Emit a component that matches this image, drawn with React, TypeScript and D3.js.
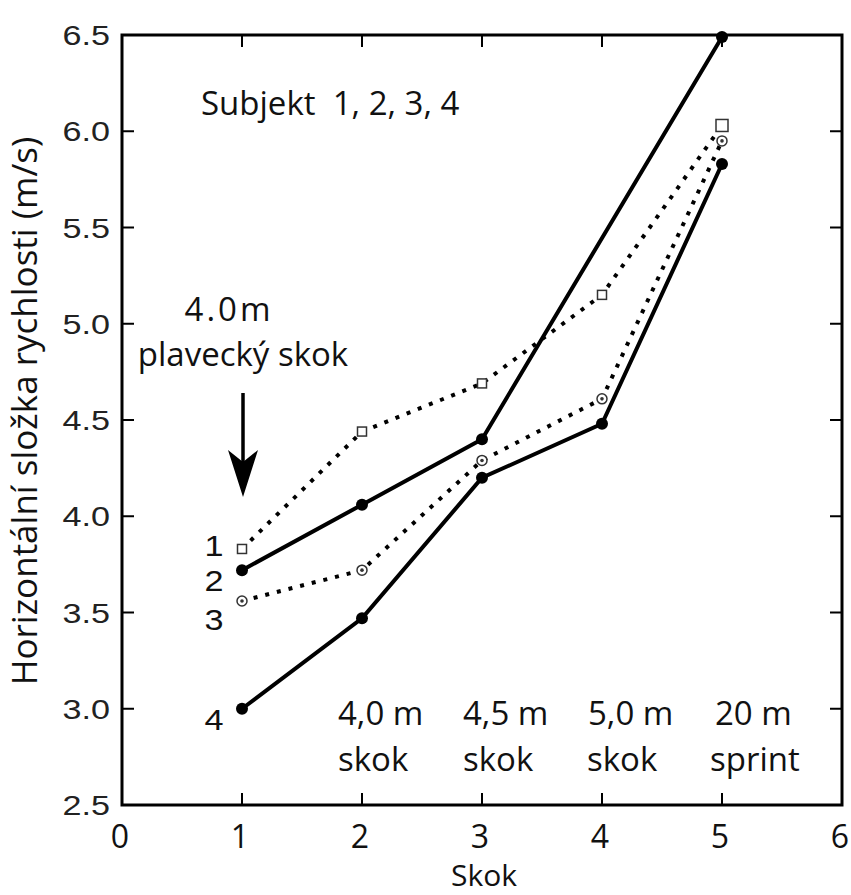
import React from "react";
import * as d3 from "d3";

const jumps = [1, 2, 3, 4, 5];
const subject1: (number | null)[] = [3.83, 4.44, 4.69, 5.15, 6.03];
const subject2: (number | null)[] = [3.72, 4.06, 4.40, null, 6.49];
const subject3: (number | null)[] = [3.56, 3.72, 4.29, 4.61, 5.95];
const subject4: (number | null)[] = [3.0, 3.47, 4.2, 4.48, 5.83];
const yTicks = [2.5, 3.0, 3.5, 4.0, 4.5, 5.0, 5.5, 6.0, 6.5];
const xTicks = [0, 1, 2, 3, 4, 5, 6];
const jumpLabels1 = ["4,0 m", "4,5 m", "5,0 m", "20 m"];
const jumpLabels2 = ["skok", "skok", "skok", "sprint"];
const jumpLabelX = [2, 3, 4, 5];
const subjectLabels = ["1", "2", "3", "4"];

const W = 851;
const H = 895;
const x = d3.scaleLinear().domain([0, 6]).range([122, 842]);
const y = d3.scaleLinear().domain([2.5, 6.5]).range([805, 35]);

type Pt = { x: number; v: number };
const pts = (arr: (number | null)[]): Pt[] =>
  jumps.map((j, i) => ({ x: j, v: arr[i] as number })).filter((d) => d.v != null);

const line = d3
  .line<Pt>()
  .x((d) => x(d.x))
  .y((d) => y(d.v));

const sans = "'Open Sans', 'Noto Sans', sans-serif";
const helv = "'Liberation Sans', Arial, sans-serif";

export default function App() {
  const s1 = pts(subject1);
  const s2 = pts(subject2);
  const s3 = pts(subject3);
  const s4 = pts(subject4);
  const tickLen = 12;
  const [x0, x1] = x.range();
  const [yb, yt] = y.range();
  const row1Left = [-24, -19, -14, -7];
  const row2Left = [-24, -19, -15, -12];
  const subjOffs = [-3, 10, 19, 11];
  return (
    <svg
      width={W}
      height={H}
      style={{ position: "absolute", left: 0, top: 0, background: "#fff" }}
    >
      {/* lines */}
      <path d={line(s1) || ""} fill="none" stroke="#000" strokeWidth={4} strokeDasharray="4 8" />
      <path d={line(s3) || ""} fill="none" stroke="#000" strokeWidth={4} strokeDasharray="4 8" />
      <path d={line(s2) || ""} fill="none" stroke="#000" strokeWidth={4} />
      <path d={line(s4) || ""} fill="none" stroke="#000" strokeWidth={4} />

      {/* markers */}
      {s2.map((d, i) => (
        <circle key={"a" + i} cx={x(d.x)} cy={y(d.v)} r={6} fill="#000" />
      ))}
      {s4.map((d, i) => (
        <circle key={"b" + i} cx={x(d.x)} cy={y(d.v)} r={6} fill="#000" />
      ))}
      {s1.map((d, i) => {
        const sz = i === 4 ? 12 : 9;
        return (
          <rect
            key={"c" + i}
            x={x(d.x) - sz / 2}
            y={y(d.v) - sz / 2}
            width={sz}
            height={sz}
            fill="#fff"
            stroke="#333"
            strokeWidth={1.5}
          />
        );
      })}
      {s3.map((d, i) => (
        <g key={"d" + i}>
          <circle cx={x(d.x)} cy={y(d.v)} r={5} fill="#fff" stroke="#333" strokeWidth={1.5} />
          <circle cx={x(d.x)} cy={y(d.v)} r={1.8} fill="#333" />
        </g>
      ))}

      {/* frame */}
      <rect x={x0} y={yt} width={x1 - x0} height={yb - yt} fill="none" stroke="#000" strokeWidth={3} />
      {jumps.map((j) => (
        <g key={"xt" + j}>
          <line x1={x(j)} x2={x(j)} y1={yb} y2={yb - tickLen} stroke="#000" strokeWidth={2} />
          <line x1={x(j)} x2={x(j)} y1={yt} y2={yt + tickLen} stroke="#000" strokeWidth={2} />
        </g>
      ))}
      {yTicks.slice(1, -1).map((t) => (
        <g key={"yt" + t}>
          <line x1={x0} x2={x0 + tickLen} y1={y(t)} y2={y(t)} stroke="#000" strokeWidth={2} />
          <line x1={x1} x2={x1 - tickLen} y1={y(t)} y2={y(t)} stroke="#000" strokeWidth={2} />
        </g>
      ))}

      {/* y tick labels */}
      {yTicks.map((t) => (
        <text
          key={"yl" + t}
          transform={`translate(110, ${y(t)}) scale(1.22, 1)`}
          dy="0.36em"
          textAnchor="end"
          fontFamily={helv}
          fontSize={28}
          fill="#222"
        >
          {t.toFixed(1)}
        </text>
      ))}
      {/* x tick labels */}
      {xTicks.map((t) => (
        <text
          key={"xl" + t}
          x={x(t) - 2}
          y={848}
          textAnchor="middle"
          fontFamily={sans}
          fontSize={32}
          fill="#111"
        >
          {t}
        </text>
      ))}
      <text x={484} y={886} textAnchor="middle" fontFamily={sans} fontSize={30} fill="#111">
        Skok
      </text>
      <text
        transform={`translate(37, 411) rotate(-90)`}
        textAnchor="middle"
        fontFamily={sans}
        fontSize={35}
        fill="#111"
      >
        Horizontální složka rychlosti (m/s)
      </text>

      {/* annotations */}
      <text x={201} y={115} fontFamily={sans} fontSize={33} fill="#111">
        Subjekt{"\u00a0\u00a0"}1, 2, 3, 4
      </text>
      <text x={229} y={321} textAnchor="middle" fontFamily={sans} fontSize={33} letterSpacing={3} fill="#111">
        4.0m
      </text>
      <text x={243} y={366} textAnchor="middle" fontFamily={sans} fontSize={33} fill="#111">
        plavecký skok
      </text>
      <line x1={243} x2={243} y1={393} y2={470} stroke="#000" strokeWidth={3.5} />
      <path d="M243,497 L228,450 L243,462 L258,450 Z" fill="#000" />

      {subjectLabels.map((l, i) => {
        const v = [subject1[0], subject2[0], subject3[0], subject4[0]][i] as number;
        return (
          <text
            key={"sl" + l}
            transform={`translate(214, ${y(v) + subjOffs[i]}) scale(1.18, 1)`}
            dy="0.36em"
            textAnchor="middle"
            fontFamily={helv}
            fontSize={29}
            fill="#111"
          >
            {l}
          </text>
        );
      })}

      {jumpLabelX.map((j, i) => (
        <g key={"jl" + j}>
          <text x={x(j) + row1Left[i]} y={725} fontFamily={sans} fontSize={33} fill="#111">
            {jumpLabels1[i]}
          </text>
          <text x={x(j) + row2Left[i]} y={771} fontFamily={sans} fontSize={33} fill="#111">
            {jumpLabels2[i]}
          </text>
        </g>
      ))}
    </svg>
  );
}
